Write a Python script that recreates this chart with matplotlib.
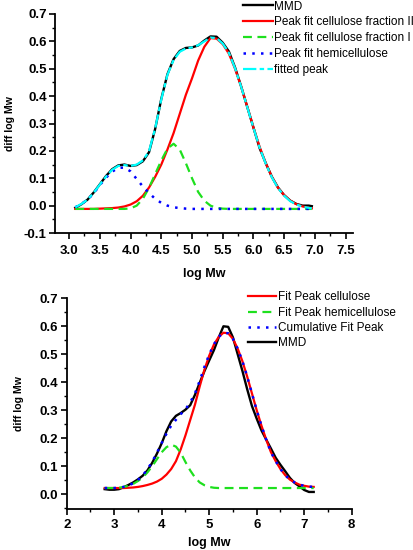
import matplotlib
matplotlib.use("Agg")
from matplotlib import pyplot as plt
from matplotlib.ticker import MultipleLocator, FormatStrFormatter

plt.rcParams['font.family'] = ['Liberation Sans', 'DejaVu Sans']

# ---- top panel data ----
top_x = [3.1, 3.2, 3.3, 3.4, 3.5, 3.6, 3.7, 3.8, 3.9, 4.0,
         4.1, 4.2, 4.3, 4.4, 4.5, 4.6, 4.7, 4.8, 4.9, 5.0,
         5.1, 5.2, 5.3, 5.4, 5.5, 5.6, 5.7, 5.8, 5.9, 6.0,
         6.1, 6.2, 6.3, 6.4, 6.5, 6.6, 6.7, 6.8, 6.9, 6.95]
top_mmd = [-0.008, 0.005, 0.022, 0.048, 0.078, 0.108, 0.133, 0.147, 0.150, 0.145,
           0.148, 0.162, 0.195, 0.280, 0.390, 0.480, 0.535, 0.565, 0.576, 0.578,
           0.585, 0.603, 0.618, 0.617, 0.595, 0.563, 0.505, 0.435, 0.360, 0.285,
           0.210, 0.155, 0.105, 0.066, 0.038, 0.018, 0.006, 0.000, 0.000, -0.002]
top_cell2 = [-0.012, -0.012, -0.012, -0.012, -0.011, -0.010, -0.009, -0.007, -0.003, 0.004,
             0.016, 0.036, 0.066, 0.105, 0.150, 0.205, 0.265, 0.335, 0.405, 0.465,
             0.530, 0.580, 0.612, 0.610, 0.590, 0.555, 0.500, 0.435, 0.360, 0.285,
             0.215, 0.155, 0.105, 0.065, 0.038, 0.018, 0.005, -0.003, -0.008, -0.010]
top_cell1 = [-0.012, -0.012, -0.012, -0.012, -0.012, -0.012, -0.012, -0.012, -0.012, -0.010,
             0.000, 0.025, 0.065, 0.115, 0.165, 0.208, 0.226, 0.205, 0.155, 0.100,
             0.050, 0.018, 0.000, -0.008, -0.011, -0.012, -0.012, -0.012, -0.012, -0.012,
             -0.012, -0.012, -0.012, -0.012, -0.012, -0.012, -0.012, -0.012, -0.012, -0.012]
top_hemi = [-0.006, 0.006, 0.022, 0.045, 0.075, 0.102, 0.124, 0.138, 0.139, 0.125,
            0.097, 0.070, 0.046, 0.025, 0.010, 0.000, -0.006, -0.009, -0.011, -0.012,
            -0.012, -0.012, -0.012, -0.012, -0.012, -0.012, -0.012, -0.012, -0.012, -0.012,
            -0.012, -0.012, -0.012, -0.012, -0.012, -0.012, -0.012, -0.012, -0.012, -0.012]
top_fit = [-0.006, 0.006, 0.022, 0.047, 0.077, 0.106, 0.131, 0.145, 0.148, 0.145,
           0.150, 0.165, 0.198, 0.282, 0.388, 0.478, 0.532, 0.562, 0.574, 0.578,
           0.586, 0.600, 0.614, 0.612, 0.592, 0.558, 0.502, 0.434, 0.359, 0.284,
           0.212, 0.153, 0.103, 0.064, 0.036, 0.016, 0.004, -0.004, -0.008, -0.010]

# ---- bottom panel data ----
bot_x = [2.8, 2.9, 3.0, 3.1, 3.2, 3.3, 3.4, 3.5, 3.6, 3.7,
         3.8, 3.9, 4.0, 4.1, 4.2, 4.3, 4.4, 4.5, 4.6, 4.7,
         4.8, 4.9, 5.0, 5.1, 5.2, 5.3, 5.4, 5.5, 5.6, 5.7,
         5.8, 5.9, 6.0, 6.1, 6.2, 6.3, 6.4, 6.5, 6.6, 6.7,
         6.8, 6.9, 7.0, 7.1, 7.2]
bot_cell = [0.022, 0.022, 0.022, 0.022, 0.022, 0.023, 0.024, 0.026, 0.029, 0.033,
            0.038, 0.045, 0.055, 0.070, 0.090, 0.118, 0.160, 0.210, 0.265, 0.320,
            0.385, 0.445, 0.495, 0.535, 0.562, 0.577, 0.575, 0.555, 0.520, 0.475,
            0.420, 0.360, 0.300, 0.245, 0.195, 0.150, 0.118, 0.090, 0.068, 0.052,
            0.042, 0.034, 0.030, 0.027, 0.026]
bot_hemi = [0.022, 0.022, 0.022, 0.023, 0.026, 0.030, 0.037, 0.047, 0.060, 0.078,
            0.100, 0.125, 0.150, 0.168, 0.177, 0.170, 0.148, 0.115, 0.085, 0.060,
            0.042, 0.032, 0.026, 0.023, 0.022, 0.022, 0.022, 0.022, 0.022, 0.022,
            0.022, 0.022, 0.022, 0.022, 0.022, 0.022, 0.022, 0.022, 0.022, 0.022,
            0.022, 0.022, 0.022, 0.022, 0.022]
bot_cum = [0.022, 0.022, 0.022, 0.023, 0.026, 0.031, 0.039, 0.051, 0.067, 0.089,
           0.116, 0.148, 0.183, 0.216, 0.245, 0.266, 0.286, 0.303, 0.328, 0.360,
           0.405, 0.455, 0.499, 0.536, 0.562, 0.577, 0.575, 0.555, 0.520, 0.475,
           0.420, 0.360, 0.300, 0.245, 0.195, 0.150, 0.118, 0.090, 0.068, 0.052,
           0.042, 0.034, 0.030, 0.027, 0.026]
bot_mmd = [0.018, 0.016, 0.016, 0.018, 0.025, 0.033, 0.042, 0.053, 0.066, 0.085,
           0.112, 0.145, 0.182, 0.225, 0.260, 0.280, 0.290, 0.302, 0.318, 0.355,
           0.398, 0.440, 0.478, 0.515, 0.560, 0.600, 0.598, 0.560, 0.500, 0.440,
           0.375, 0.315, 0.270, 0.228, 0.195, 0.163, 0.130, 0.105, 0.082, 0.058,
           0.040, 0.028, 0.015, 0.008, 0.008]

GREEN = '#1ee01e'

fig = plt.figure(figsize=(4.14, 5.5), dpi=100)
ax1 = fig.add_axes([55/414, 1 - 233/550, 298/414, 219/550])
ax2 = fig.add_axes([66.7/414, 1 - 509.3/550, 285/414, 211/550])


def style_axes(ax, xpad, xlab_y, ylab_x):
    for side in ['top', 'right']:
        ax.spines[side].set_visible(False)
    for side in ['left', 'bottom']:
        ax.spines[side].set_linewidth(1.3)
    ax.tick_params(which='major', direction='out', length=4, width=1.2,
                   labelsize=9.5, pad=2)
    ax.tick_params(axis='x', which='major', pad=xpad)
    ax.tick_params(which='minor', direction='out', length=2.5, width=1.0)
    for lab in ax.get_xticklabels() + ax.get_yticklabels():
        lab.set_fontweight('bold')
    ax.set_xlabel('log Mw', fontsize=9, fontweight='bold')
    ax.set_ylabel('diff log Mw', fontsize=7.6, fontweight='bold')
    ax.xaxis.set_label_coords(0.5, xlab_y)
    ax.yaxis.set_label_coords(ylab_x, 0.5)


# top panel
l_mmd, = ax1.plot(top_x, top_mmd, color='black', lw=1.7, label='MMD')
l_c2, = ax1.plot(top_x, top_cell2, color='red', lw=1.6,
                 label='Peak fit cellulose fraction II')
l_c1, = ax1.plot(top_x, top_cell1, color=GREEN, lw=1.6, ls=(0, (4, 2.5)),
                 label='Peak fit cellulose fraction I')
l_h, = ax1.plot(top_x, top_hemi, color='blue', lw=1.8, ls=(0, (1, 2.5)),
                label='Peak fit hemicellulose')
l_f, = ax1.plot(top_x, top_fit, color='cyan', lw=1.6, ls=(0, (6, 1.5, 2, 1.5)),
                label='fitted peak')
ax1.set_xlim(2.77, 7.62)
ax1.set_ylim(-0.1, 0.7)
ax1.xaxis.set_major_locator(MultipleLocator(0.5))
ax1.xaxis.set_minor_locator(MultipleLocator(0.25))
ax1.xaxis.set_major_formatter(FormatStrFormatter('%.1f'))
ax1.yaxis.set_major_locator(MultipleLocator(0.1))
ax1.yaxis.set_minor_locator(MultipleLocator(0.05))
ax1.yaxis.set_major_formatter(FormatStrFormatter('%.1f'))
style_axes(ax1, 5, (233 - 268) / 219, (15 - 55) / 298)
fig.legend(handles=[l_mmd, l_c2, l_c1, l_h, l_f], loc='upper left',
           bbox_to_anchor=(243/414, 1 - 0.5/550), frameon=False, fontsize=8.5,
           handlelength=2.5, handletextpad=0.15, labelspacing=0.33,
           borderpad=0, borderaxespad=0)

# bottom panel
b_mmd, = ax2.plot(bot_x, bot_mmd, color='black', lw=1.7, label='MMD')
b_c, = ax2.plot(bot_x, bot_cell, color='red', lw=1.6, label='Fit Peak cellulose')
b_h, = ax2.plot(bot_x, bot_hemi, color=GREEN, lw=1.6, ls=(0, (4, 2.5)),
                label='Fit Peak hemicellulose')
b_cum, = ax2.plot(bot_x, bot_cum, color='blue', lw=1.8, ls=(0, (1, 2.5)),
                  label='Cumulative Fit Peak')
ax2.set_xlim(2, 8)
ax2.set_ylim(-0.054, 0.7)
ax2.xaxis.set_major_locator(MultipleLocator(1))
ax2.xaxis.set_minor_locator(MultipleLocator(0.5))
ax2.xaxis.set_major_formatter(FormatStrFormatter('%d'))
ax2.yaxis.set_major_locator(MultipleLocator(0.1))
ax2.yaxis.set_minor_locator(MultipleLocator(0.05))
ax2.yaxis.set_major_formatter(FormatStrFormatter('%.1f'))
style_axes(ax2, 3, (509.3 - 537) / 211, (24 - 66.7) / 285)
fig.legend(handles=[b_c, b_h, b_cum, b_mmd], loc='upper left',
           bbox_to_anchor=(248/414, 1 - 291.5/550), frameon=False, fontsize=8.5,
           handlelength=2.4, handletextpad=0.15, labelspacing=0.27,
           borderpad=0, borderaxespad=0)

fig.savefig('out.png', dpi=100)
